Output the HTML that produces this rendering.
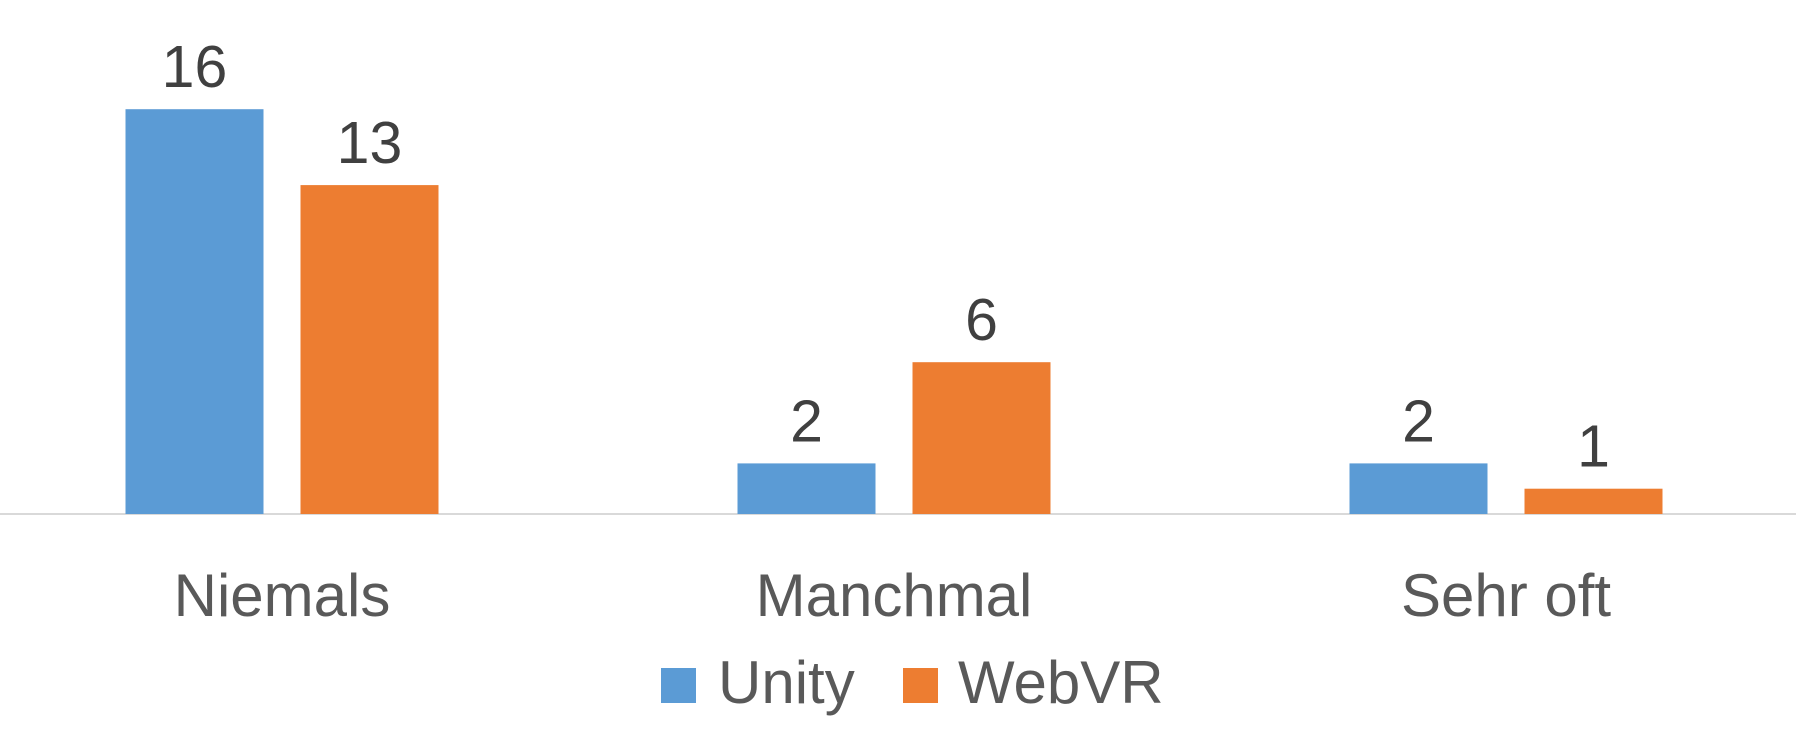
<!DOCTYPE html>
<html><head><meta charset="utf-8"><style>
html,body{margin:0;padding:0;background:#fff;}
svg{display:block;font-family:"Liberation Sans",sans-serif;}
</style></head><body>
<svg id="chart" width="1796" height="752">
<line x1="0" y1="514" x2="1796" y2="514" stroke="#d9d9d9" stroke-width="2"/>
<g id="bars"></g>
<g id="legend">
  <rect x="661" y="668" width="35" height="35" fill="#5b9bd5"/>
  <text x="718" y="703" font-size="60" fill="#595959">Unity</text>
  <rect x="903" y="668" width="35" height="35" fill="#ed7d31"/>
  <text x="958" y="703" font-size="60" fill="#595959">WebVR</text>
</g>
</svg>
<script>
const categories = ["Niemals", "Manchmal", "Sehr oft"];
const unityValues = [16, 2, 2];
const webvrValues = [13, 6, 1];
const seriesNames = ["Unity", "WebVR"];

const NS = "http://www.w3.org/2000/svg";
const g = document.getElementById("bars");
const baseY = 514, pxPerUnit = 25.3;
const firstCenter = 282, step = 612, barW = 138, gap = 37;
const colors = ["#5b9bd5", "#ed7d31"];
function y(v){ return baseY - v * pxPerUnit; }
function xCenter(i){ return firstCenter + i * step; }
const series = [unityValues, webvrValues];
categories.forEach((cat, i) => {
  series.forEach((vals, s) => {
    const x0 = xCenter(i) + (s === 0 ? -(gap/2) - barW : gap/2);
    const r = document.createElementNS(NS, "rect");
    r.setAttribute("x", x0);
    r.setAttribute("y", y(vals[i]));
    r.setAttribute("width", barW);
    r.setAttribute("height", baseY - y(vals[i]));
    r.setAttribute("fill", colors[s]);
    
    
    g.appendChild(r);
    const t = document.createElementNS(NS, "text");
    t.setAttribute("x", x0 + barW / 2);
    t.setAttribute("y", y(vals[i]) - 22);
    t.setAttribute("text-anchor", "middle");
    t.setAttribute("font-size", "59");
    t.setAttribute("fill", "#404040");
    t.textContent = vals[i];
    
    
    g.appendChild(t);
  });
  const c = document.createElementNS(NS, "text");
  c.setAttribute("x", xCenter(i));
  c.setAttribute("y", 616);
  c.setAttribute("text-anchor", "middle");
  c.setAttribute("font-size", "60");
  c.setAttribute("fill", "#595959");
  c.textContent = cat;
  
  
  g.appendChild(c);
});
</script>
</body></html>
